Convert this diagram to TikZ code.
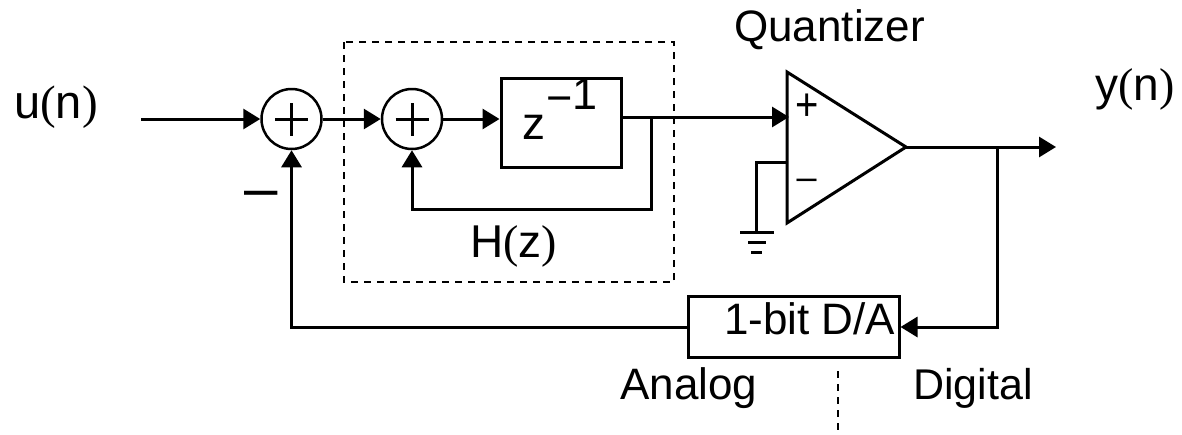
\documentclass[tikz,border=0pt]{standalone}
\usepackage{fontspec}
\setmainfont{Liberation Sans}
\newfontfamily\serifp{Liberation Serif}
\newcommand{\pl}{{\serifp(}}
\newcommand{\pr}{{\serifp)}}
\usetikzlibrary{arrows.meta}
\tikzset{
 wire/.style={line width=3pt,draw=black},
 arr/.style={wire,-{Triangle[length=17pt,width=20pt]}},
 sumc/.style={circle,draw=black,line width=2.5pt,minimum size=60pt,inner sep=0pt},
 blockb/.style={draw=black,line width=3pt,inner sep=0pt},
 lab/.style={inner sep=0pt,font=\fontsize{44pt}{46pt}\selectfont,anchor=base west},
 labbig/.style={lab,font=\fontsize{46pt}{48pt}\selectfont},
 sgn/.style={inner sep=0pt,font=\fontsize{40pt}{42pt}\selectfont},
 dots/.style={line width=2pt,dash pattern=on 7pt off 6pt}
}
\begin{document}
\begin{tikzpicture}[x=1pt,y=-1pt]
\useasboundingbox (0,0) rectangle (1182,434);
\node[sumc] (s1) at (291.5,119) {};
\node[sumc] (s2) at (412,119) {};
\draw[wire] (275,119) -- (308,119);
\draw[wire] (291.5,103) -- (291.5,136);
\draw[wire] (395.5,119) -- (428.5,119);
\draw[wire] (412,103) -- (412,136);
\node[blockb,minimum width=120pt,minimum height=89pt] (z) at (561,122.5) {};
\node[blockb,minimum width=211pt,minimum height=61pt] (da) at (793.5,327) {};
\coordinate (tl) at (787,72);
\coordinate (bl) at (787,223);
\coordinate (tip) at (906,147);
\draw[wire] (tl) -- (tip) -- (bl) -- cycle;
\coordinate (in) at (141,119);
\coordinate (jz) at (651,117);
\coordinate (jout) at (997,147);
\coordinate (out) at (1056,147);
\coordinate (pin) at (789,117);
\coordinate (mi) at (787,162);
\coordinate (g) at (756,162);
\coordinate (gnd) at (756,232);
\draw[arr] (in) -- (s1.west);
\draw[arr] (s1.east) -- (s2.west);
\draw[arr] (s2.east) -- (z.west |- s2.east);
\draw[wire] (z.east |- jz) -- (jz);
\draw[arr] (jz) -- (pin);
\draw[arr] (jz) -- (651,209) -| (s2.south);
\draw[arr] (tip) -- (out);
\draw[arr] (jout) |- (da.east);
\draw[arr] (da.west) -| (s1.south);
\draw[wire] (mi) -- (g) -- (gnd);
\draw[wire] (740,232) -- (774,232);
\draw[wire] (748,242) -- (766,242);
\draw[wire] (751,252) -- (762,252);
\draw[dots] (344,42) rectangle (674,282);
\draw[dots] (838,371) -- (838,434);
\node[sgn,yscale=1.15,transform shape] (plus) at (807,107) {+};
\node[sgn,font=\fontsize{36pt}{38pt}\selectfont] (minus) at (806.5,184) {–};
\node[inner sep=0pt,font=\fontsize{60pt}{62pt}\selectfont] (neg) at (261,200) {–};
\node[lab] (tq) at (734,41) {Quantizer};
\node[labbig,font=\fontsize{47pt}{49pt}\selectfont] (tu) at (14,118) {u\pl n\pr};
\node[labbig,font=\fontsize{46pt}{48pt}\selectfont] (ty) at (1095,100) {y\pl n\pr};
\node[labbig] (th) at (470,257) {H\pl z\pr};
\node[labbig] (tz) at (522,139) {z};
\node[lab,font=\fontsize{45pt}{47pt}\selectfont] (te) at (546,109) {\raisebox{-4pt}{−}1};
\node[lab] (td) at (724,334) {1-bit D/A};
\node[lab] (ta) at (620,399) {Analog};
\node[lab,font=\fontsize{43pt}{45pt}\selectfont] (tg) at (913,399) {Digital};
\end{tikzpicture}
\end{document}
